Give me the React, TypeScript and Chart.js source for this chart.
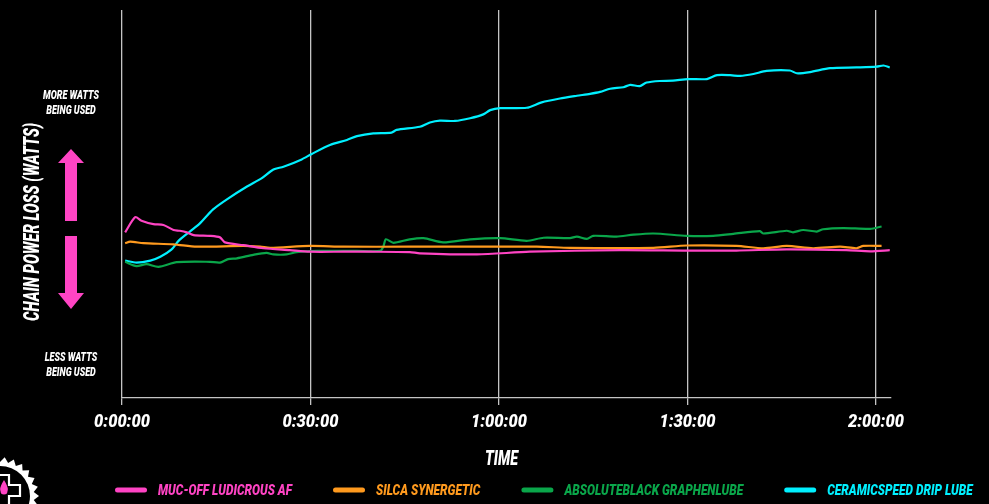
import React, { useEffect, useRef } from "react";
import { Chart, registerables } from "chart.js";

Chart.register(...registerables);

// Time in minutes, value in relative chain power loss units (hidden axis)
const seriesLabels = [
  "MUC-OFF LUDICROUS AF",
  "SILCA SYNERGETIC",
  "ABSOLUTEBLACK GRAPHENLUBE",
  "CERAMICSPEED DRIP LUBE",
];
const seriesColors = ["#ff44c4", "#ff9a1e", "#0aa64a", "#00f0ff"];

const mucOffTimes = [0.5, 2.1, 3.1, 5.0, 6.6, 8.2, 9.2, 10.3, 11.4, 14.0, 15.6, 16.4, 19.3, 22.5, 26.7, 29.9, 35.2, 39.5, 45.8, 47.4, 56.5, 64.9, 79.3, 89.9, 97.8, 105.8, 115.3, 119.1, 122.2];
const mucOffValues = [42.7, 46.6, 45.7, 44.8, 44.6, 43.3, 43.1, 42.7, 42.0, 41.8, 41.4, 40.1, 39.4, 38.6, 38.1, 37.7, 37.7, 37.7, 37.6, 37.3, 37.0, 37.7, 38.1, 38.0, 38.0, 38.3, 38.1, 37.8, 38.1];

const silcaTimes = [0.5, 1.3, 3.4, 8.2, 11.9, 19.3, 22.0, 23.6, 29.9, 35.2, 45.8, 66.0, 71.3, 84.6, 89.9, 97.8, 102.1, 105.8, 110.0, 114.3, 116.9, 118.0, 120.9];
const silcaValues = [39.9, 40.3, 39.9, 39.6, 39.0, 39.2, 39.0, 38.7, 39.2, 39.0, 39.0, 39.0, 38.7, 38.7, 39.3, 39.2, 38.6, 39.2, 38.6, 39.0, 38.6, 39.2, 39.2];

const absoluteBlackTimes = [0.5, 2.3, 3.9, 5.8, 8.7, 14.0, 15.6, 16.9, 18.3, 20.9, 23.0, 24.1, 26.2, 27.8, 31.0, 37.4, 41.1, 41.6, 42.0, 43.2, 45.8, 48.0, 51.1, 55.4, 60.2, 64.4, 67.1, 71.3, 72.4, 74.0, 75.0, 78.7, 81.4, 84.6, 89.9, 94.1, 97.3, 101.5, 102.1, 105.8, 106.8, 108.4, 110.6, 111.6, 114.8, 119.1, 120.9];
const absoluteBlackValues = [35.1, 34.0, 34.5, 33.8, 35.0, 35.1, 34.9, 35.8, 36.0, 36.9, 37.4, 37.0, 37.0, 37.6, 37.9, 37.9, 37.9, 39.0, 40.9, 40.0, 40.9, 41.2, 40.1, 40.9, 41.2, 40.5, 41.3, 41.2, 41.6, 41.0, 41.8, 41.6, 42.1, 42.4, 41.8, 41.8, 42.3, 43.0, 42.4, 43.1, 42.7, 43.3, 42.9, 43.5, 43.8, 43.6, 44.2];

const ceramicSpeedTimes = [0.5, 2.3, 4.5, 6.1, 7.9, 9.0, 10.8, 12.4, 14.5, 16.7, 19.9, 22.2, 24.1, 25.7, 28.6, 30.2, 33.1, 35.8, 37.4, 40.0, 42.9, 43.7, 47.4, 49.0, 50.6, 53.0, 55.4, 57.5, 58.6, 60.2, 64.4, 66.8, 69.7, 72.4, 74.5, 76.1, 77.7, 79.8, 80.9, 82.4, 83.5, 85.6, 87.7, 90.1, 93.1, 94.7, 96.8, 98.4, 100.5, 102.6, 106.3, 107.4, 109.5, 112.7, 116.9, 120.1, 121.2, 122.2];
const ceramicSpeedValues = [35.4, 34.9, 35.4, 36.4, 38.3, 40.5, 42.9, 45.0, 48.6, 51.2, 54.5, 56.6, 58.9, 59.6, 61.5, 62.9, 65.2, 66.5, 67.5, 68.2, 68.4, 69.1, 69.9, 71.0, 71.5, 71.4, 72.1, 73.1, 74.2, 74.7, 74.8, 76.2, 77.2, 77.9, 78.4, 78.9, 79.7, 80.1, 80.7, 80.4, 81.3, 81.7, 81.8, 82.2, 82.2, 83.2, 83.2, 83.0, 83.5, 84.3, 84.4, 83.7, 84.0, 85.0, 85.2, 85.4, 85.7, 85.2];

const xTickValues = [0, 30, 60, 90, 120];
const xMaxMinutes = 122.4;
const xTitle = "TIME";
const yTitle = "CHAIN POWER LOSS (WATTS)";
const moreCaption = ["MORE WATTS", "BEING USED"];
const lessCaption = ["LESS WATTS", "BEING USED"];

const FONT = "Roboto, 'Liberation Sans', 'DejaVu Sans', sans-serif";
const ARROW_PINK = "#ff44c4";

function fmtTime(v: number): string {
  const h = Math.floor(v / 60);
  const m = Math.round(v % 60);
  return `${h}:${String(m).padStart(2, "0")}:00`;
}

function zip(t: number[], v: number[]) {
  return t.map((x, i) => ({ x, y: v[i] }));
}

function fontStr(size: number) {
  return `italic 900 ${size}px ${FONT}`;
}

// condensed text: horizontal squeeze factor from a reference sample width
function squeeze(ctx: CanvasRenderingContext2D, size: number, sample: string, targetW: number) {
  ctx.font = fontStr(size);
  return targetW / ctx.measureText(sample).width;
}

function drawText(
  ctx: CanvasRenderingContext2D,
  text: string,
  x: number,
  y: number,
  size: number,
  sx: number,
  color: string,
  align: CanvasTextAlign,
) {
  ctx.save();
  ctx.font = fontStr(size);
  ctx.fillStyle = color;
  ctx.textAlign = align;
  ctx.textBaseline = "alphabetic";
  ctx.translate(x, y);
  ctx.scale(sx, 1);
  ctx.fillText(text, 0, 0);
  ctx.restore();
}

const decorations = {
  id: "decorations",
  afterDraw(chart: any) {
    const ctx = chart.ctx as CanvasRenderingContext2D;
    const xs = chart.scales.x;
    const area = chart.chartArea;

    // x tick labels
    const sxTick = squeeze(ctx, 18, "0:00:00", 56);
    xTickValues.forEach((v) => {
      drawText(ctx, fmtTime(v), xs.getPixelForValue(v), area.bottom + 29, 18, sxTick, "#ffffff", "center");
    });
    // x title
    const sxTitle = squeeze(ctx, 21, xTitle, 33);
    drawText(ctx, xTitle, (area.left + area.right) / 2 - 5, area.bottom + 67, 21, sxTitle, "#ffffff", "center");

    // side captions
    const cx = 71;
    const sxCap = squeeze(ctx, 12.5, "MORE WATTS", 56);
    drawText(ctx, moreCaption[0], cx, 99, 12.5, sxCap, "#ffffff", "center");
    drawText(ctx, moreCaption[1], cx, 114, 12.5, sxCap, "#ffffff", "center");
    drawText(ctx, lessCaption[0], cx, 361, 12.5, sxCap, "#ffffff", "center");
    drawText(ctx, lessCaption[1], cx, 376, 12.5, sxCap, "#ffffff", "center");

    // arrows
    ctx.save();
    ctx.fillStyle = ARROW_PINK;
    ctx.beginPath();
    ctx.moveTo(cx, 149);
    ctx.lineTo(cx + 13, 163);
    ctx.lineTo(cx + 6, 163);
    ctx.lineTo(cx + 6, 221);
    ctx.lineTo(cx - 6, 221);
    ctx.lineTo(cx - 6, 163);
    ctx.lineTo(cx - 13, 163);
    ctx.closePath();
    ctx.fill();
    ctx.beginPath();
    ctx.moveTo(cx, 309);
    ctx.lineTo(cx + 13, 293);
    ctx.lineTo(cx + 6, 293);
    ctx.lineTo(cx + 6, 236);
    ctx.lineTo(cx - 6, 236);
    ctx.lineTo(cx - 6, 293);
    ctx.lineTo(cx - 13, 293);
    ctx.closePath();
    ctx.fill();
    ctx.restore();

    // rotated y title
    const sxY = squeeze(ctx, 22, yTitle, 198);
    ctx.save();
    ctx.translate(39, 222);
    ctx.rotate(-Math.PI / 2);
    drawText(ctx, yTitle, 0, 0, 22, sxY, "#ffffff", "center");
    ctx.restore();

    // legend
    const sxLeg = squeeze(ctx, 14, seriesLabels[0], 134);
    let lx = 115;
    seriesLabels.forEach((label, i) => {
      ctx.save();
      ctx.strokeStyle = seriesColors[i];
      ctx.lineWidth = 5;
      ctx.lineCap = "round";
      ctx.beginPath();
      ctx.moveTo(lx + 2.5, 490);
      ctx.lineTo(lx + 29.5, 490);
      ctx.stroke();
      ctx.restore();
      lx += 43;
      drawText(ctx, label, lx, 495, 14, sxLeg, seriesColors[i], "left");
      ctx.font = fontStr(14);
      lx += ctx.measureText(label).width * sxLeg + 41;
    });

    // logo (gear with cross and drop), partly off-canvas
    ctx.save();
    const gx = 0, gy = 496;
    const teeth = 26;
    ctx.beginPath();
    for (let i = 0; i < teeth * 2; i++) {
      const a = (i / (teeth * 2)) * Math.PI * 2;
      const r = i % 2 === 0 ? 39 : 34;
      const px = gx + r * Math.cos(a);
      const py = gy + r * Math.sin(a);
      if (i === 0) ctx.moveTo(px, py);
      else ctx.lineTo(px, py);
    }
    ctx.closePath();
    ctx.fillStyle = "#ffffff";
    ctx.fill();
    ctx.beginPath();
    ctx.arc(gx, gy, 30, 0, Math.PI * 2);
    ctx.fillStyle = "#000000";
    ctx.fill();
    ctx.strokeStyle = "#ffffff";
    ctx.lineWidth = 2.2;
    ctx.beginPath();
    ctx.moveTo(-4, 475);
    ctx.lineTo(9, 475);
    ctx.lineTo(9, 485);
    ctx.lineTo(20, 485);
    ctx.lineTo(20, 496);
    ctx.lineTo(9, 496);
    ctx.lineTo(9, 510);
    ctx.stroke();
    ctx.fillStyle = ARROW_PINK;
    ctx.beginPath();
    ctx.moveTo(4, 480);
    ctx.quadraticCurveTo(9, 488, 7.5, 491);
    ctx.arc(4, 491, 3.5, 0, Math.PI);
    ctx.quadraticCurveTo(-1, 488, 4, 480);
    ctx.fill();
    ctx.restore();
  },
};

export default function App() {
  const canvasRef = useRef<HTMLCanvasElement | null>(null);

  useEffect(() => {
    document.body.style.margin = "0";
    document.body.style.background = "#000";
    const canvas = canvasRef.current;
    if (!canvas) return;
    const seriesTimes = [mucOffTimes, silcaTimes, absoluteBlackTimes, ceramicSpeedTimes];
    const seriesValues = [mucOffValues, silcaValues, absoluteBlackValues, ceramicSpeedValues];
    const chart = new Chart(canvas, {
      type: "line",
      data: {
        datasets: seriesLabels.map((label, i) => ({
          label,
          data: zip(seriesTimes[i], seriesValues[i]),
          borderColor: seriesColors[i],
          backgroundColor: seriesColors[i],
          borderWidth: 2.2,
          pointRadius: 0,
          tension: 0.25,
          fill: false,
        })),
      },
      options: {
        animation: false,
        responsive: false,
        devicePixelRatio: 1,
        maintainAspectRatio: false,
        layout: { padding: { left: 122, right: 98, top: 10, bottom: 99 } },
        plugins: {
          legend: { display: false },
          tooltip: { enabled: false },
        },
        scales: {
          x: {
            type: "linear",
            min: 0,
            max: xMaxMinutes,
            afterBuildTicks: (scale: any) => {
              scale.ticks = xTickValues.map((v) => ({ value: v }));
            },
            grid: {
              color: "#c4c4c4",
              lineWidth: 1.3,
              drawTicks: true,
              tickLength: 7,
            },
            border: { display: true, color: "#c4c4c4", width: 1.3 },
            ticks: { display: false },
            title: { display: false },
          },
          y: {
            display: false,
            min: 0,
            max: 100,
          },
        },
      },
      plugins: [decorations],
    });
    return () => chart.destroy();
  }, []);

  return (
    <div style={{ position: "relative", width: 989, height: 504, background: "#000", overflow: "hidden" }}>
      <canvas ref={canvasRef} width={989} height={504} style={{ display: "block", width: 989, height: 504 }} />
    </div>
  );
}
